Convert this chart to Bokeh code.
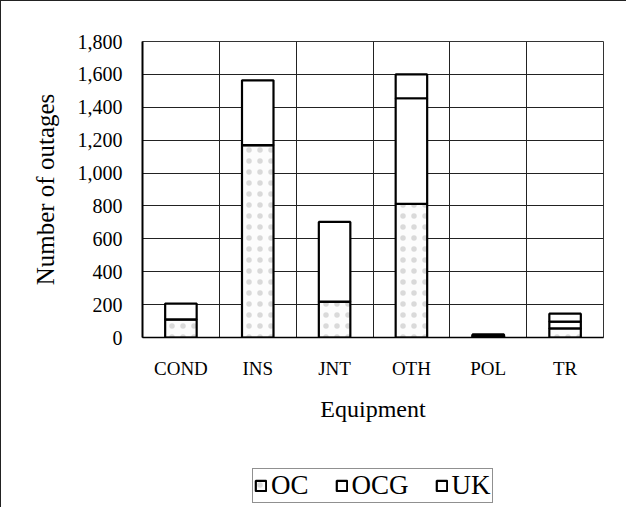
from bokeh.plotting import figure
from bokeh.layouts import column
from bokeh.models import FixedTicker, NumeralTickFormatter, Legend, LegendItem, ColumnDataSource, Range1d
from bokeh.embed import file_html
from bokeh.resources import INLINE

categories = ["COND", "INS", "JNT", "OTH", "POL", "TR"]
series = ["OC", "OCG", "UK"]
oc = [110, 1170, 218, 812, 8, 55]
ocg = [0, 0, 0, 643, 5, 42]
uk = [96, 394, 485, 145, 6, 48]
y_ticks = [0, 200, 400, 600, 800, 1000, 1200, 1400, 1600, 1800]

fills = ["#fcfcfc", "white", "white"]
hatches = ["dot", " ", " "]

xs = [i + 0.5 for i in range(len(categories))]
src = ColumnDataSource(dict(x=xs, OC=oc, OCG=ocg, UK=uk))

FONT = "Liberation Serif"

p = figure(width=625, height=465, output_backend="svg", toolbar_location=None,
           x_range=Range1d(0, len(categories)), y_range=Range1d(0, 1800),
           min_border_left=141, min_border_right=23, min_border_top=40, min_border_bottom=129)

bar_style = dict(hatch_color="#999999", hatch_scale=11, hatch_weight=0.6, hatch_alpha=0.35,
                 line_color="black", line_width=2.2)
renderers = p.vbar_stack(series, x="x", width=0.41, source=src,
                         fill_color=fills, hatch_pattern=hatches, **bar_style)

p.background_fill_color = "white"
p.border_fill_color = "white"
p.outline_line_color = "#333"
p.outline_line_width = 1

# grids
p.ygrid.ticker = FixedTicker(ticks=y_ticks)
p.ygrid.grid_line_color = "#222"
p.ygrid.grid_line_width = 1
p.xgrid.ticker = FixedTicker(ticks=[1, 2, 3, 4, 5])
p.xgrid.grid_line_color = "#222"
p.xgrid.grid_line_width = 1

# y axis
p.yaxis.ticker = FixedTicker(ticks=y_ticks)
p.yaxis.formatter = NumeralTickFormatter(format="0,0")
p.yaxis.major_tick_out = 0
p.yaxis.major_tick_in = 0
p.yaxis.minor_tick_line_color = None
p.yaxis.axis_line_width = 2
p.yaxis.axis_line_color = "black"
p.yaxis.major_label_text_font = FONT
p.yaxis.major_label_text_font_size = "20px"
p.yaxis.major_label_text_color = "black"
p.yaxis.major_label_standoff = 20
p.yaxis.axis_label = "Number of outages"
p.yaxis.axis_label_text_font = FONT
p.yaxis.axis_label_text_font_size = "25px"
p.yaxis.axis_label_text_font_style = "normal"
p.yaxis.axis_label_text_color = "black"
p.yaxis.axis_label_standoff = 16

# x axis
p.xaxis.ticker = FixedTicker(ticks=xs)
p.xaxis.major_label_overrides = {x: c for x, c in zip(xs, categories)}
p.xaxis.major_tick_out = 0
p.xaxis.major_tick_in = 0
p.xaxis.minor_tick_line_color = None
p.xaxis.axis_line_width = 1.5
p.xaxis.axis_line_color = "black"
p.xaxis.major_label_text_font = FONT
p.xaxis.major_label_text_font_size = "19px"
p.xaxis.major_label_text_color = "black"
p.xaxis.major_label_standoff = 20
p.xaxis.axis_label = "Equipment"
p.xaxis.axis_label_text_font = FONT
p.xaxis.axis_label_text_font_size = "24px"
p.xaxis.axis_label_text_font_style = "normal"
p.xaxis.axis_label_text_color = "black"
p.xaxis.axis_label_standoff = 14

# legend strip below the chart (its frame is aligned with the chart's frame)
q = figure(width=625, height=41, output_backend="svg", toolbar_location=None,
           x_range=Range1d(0, len(categories)), y_range=Range1d(0, 1800),
           x_axis_type=None, y_axis_type=None, min_border=0)
q.grid.visible = False
q.outline_line_color = None
q.background_fill_color = "white"
q.border_fill_color = "white"
# same series, hidden in this strip: only their legend keys are drawn
key_renderers = q.vbar_stack(series, x="x", width=0.41, source=src,
                             fill_color=fills, hatch_pattern=hatches, **bar_style)
for r in key_renderers:
    r.visible = False
legend = Legend(items=[LegendItem(label=s, renderers=[r]) for s, r in zip(series, key_renderers)],
                orientation="horizontal", location=(110, 4),
                label_text_font=FONT, label_text_font_size="27px", label_text_color="black",
                glyph_width=13, glyph_height=13, label_standoff=4, spacing=26,
                padding=1, margin=0, inactive_fill_alpha=0,
                border_line_color="#222", border_line_width=1,
                background_fill_color="white", background_fill_alpha=1)
q.add_layout(legend, "center")

layout = column(p, q, spacing=0)
layout.styles = {"border-left": "1px solid #222", "border-top": "1px solid #222"}

open("out.html", "w").write(file_html(layout, INLINE))
